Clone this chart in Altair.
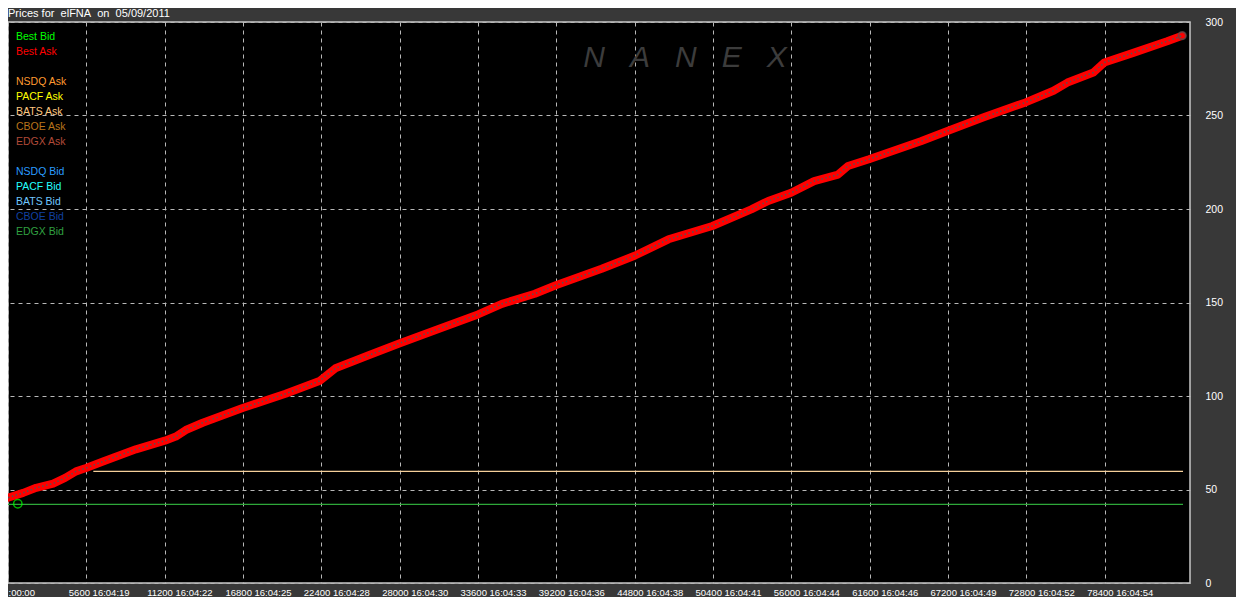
import altair as alt
import pandas as pd

# ---------------- data ----------------
title_text = "Prices for\u00a0\u00a0elFNA\u00a0\u00a0on\u00a0\u00a005/09/2011"
watermark = "N\u00a0\u00a0\u00a0A\u00a0\u00a0\u00a0N\u00a0\u00a0\u00a0E\u00a0\u00a0\u00a0X"

# Best Ask trace (sequence number, price)
ask_seq = [0, 1087, 2014, 3226, 4081, 4865, 5580, 6791, 9144, 11212, 11996, 12709,
           13921, 16773, 19839, 22263, 23404, 25828, 27967, 30534, 33600, 35311,
           37664, 39161, 42441, 44794, 47218, 50355, 53136, 54348, 55988, 57628,
           59339, 60052, 61549, 65257, 67253, 69749, 72744, 74740, 75738, 77592,
           78376, 80444, 82868, 83938]
ask_price = [45.6, 48.2, 50.9, 53.2, 56.2, 59.7, 61.5, 65.0, 71.5, 76.1, 78.3, 81.8,
             85.7, 93.6, 101.2, 108.0, 114.8, 121.9, 128.1, 135.2, 143.6, 149.3,
             154.7, 159.2, 168.0, 175.0, 183.8, 190.9, 199.8, 204.3, 208.7, 214.9,
             218.4, 223.0, 226.6, 236.2, 242.0, 249.0, 257.0, 263.2, 267.6, 273.0,
             278.3, 283.5, 289.7, 292.7]

# flat quote levels
level_names = ["EDGX Bid", "BATS Ask"]
level_start = [0, 6100]
level_end = [84000, 84000]
level_price = [42.0, 59.7]
level_color = ["#2ea83a", "#f6d09a"]

# best bid marker near the start
bid_seq = [700]
bid_price = [42.4]

# x axis ticks
x_ticks = [0, 5600, 11200, 16800, 22400, 28000, 33600, 39200, 44800, 50400,
           56000, 61600, 67200, 72800, 78400]
x_labels = [":00:00", "5600 16:04:19", "11200 16:04:22", "16800 16:04:25",
            "22400 16:04:28", "28000 16:04:30", "33600 16:04:33", "39200 16:04:36",
            "44800 16:04:38", "50400 16:04:41", "56000 16:04:44", "61600 16:04:46",
            "67200 16:04:49", "72800 16:04:52", "78400 16:04:54"]
y_ticks = [0, 50, 100, 150, 200, 250, 300]

# legend entries
legend_names = ["Best Bid", "Best Ask", "", "NSDQ Ask", "PACF Ask", "BATS Ask",
                "CBOE Ask", "EDGX Ask", "", "NSDQ Bid", "PACF Bid", "BATS Bid",
                "CBOE Bid", "EDGX Bid"]
legend_colors = ["#00ff00", "#ff0000", "#000000", "#ff9a30", "#ffff00", "#ffc880",
                 "#b8741a", "#b04a38", "#000000", "#2a9cff", "#22ffff", "#70c8ff",
                 "#1040a0", "#30a040"]

# ---------------- chart ----------------
FONT = "Liberation Sans"
xdom = [0, 84500]
ydom = [0, 300]

ask_df = pd.DataFrame({"seq": ask_seq, "price": ask_price})
lvl_df = pd.DataFrame({"name": level_names, "s": level_start, "e": level_end,
                       "price": level_price, "color": level_color})
bid_df = pd.DataFrame({"seq": bid_seq, "price": bid_price})
leg_df = pd.DataFrame({"name": legend_names, "color": legend_colors})

label_expr = ""
for v, lab in zip(x_ticks, x_labels):
    label_expr += f"datum.value == {v} ? '{lab}' : "
label_expr += "''"

x_axis = alt.Axis(
    values=x_ticks, labelExpr=label_expr, title=None, domain=False, ticks=False,
    grid=True, gridColor="#b8b8b8", gridDash=[4, 4], gridWidth=1,
    labelColor="#ffffff", labelFont=FONT, labelFontSize=9.5, labelAlign="left",
    labelOffset={"condition": {"test": "datum.value == 0", "value": 0}, "value": -18},
    labelPadding=4, labelOverlap=False, labelFlush=False, labelBound=False,
)
y_axis = alt.Axis(
    values=y_ticks, orient="right", title=None, domain=False, ticks=False,
    grid=True, gridColor="#b8b8b8", gridDash=[4, 4], gridWidth=1,
    labelColor="#ffffff", labelFont=FONT, labelFontSize=10.5, labelAlign="left",
    labelPadding=15, labelOverlap=False, labelFlush=False,
)

X = lambda f: alt.X(f, scale=alt.Scale(domain=xdom, nice=False, zero=False), axis=x_axis)
Y = lambda f: alt.Y(f, scale=alt.Scale(domain=ydom, nice=False), axis=y_axis)

# watermark
wm = alt.Chart(pd.DataFrame({"t": [watermark]})).mark_text(
    font=FONT, fontSize=30, fontStyle="italic", color="#3c3c3c",
    align="center", baseline="middle"
).encode(text="t:N", x=alt.value(677), y=alt.value(36))

levels = alt.Chart(lvl_df).mark_rule(strokeWidth=1.2).encode(
    x=X("s:Q"), x2="e:Q", y=Y("price:Q"),
    color=alt.Color("color:N", scale=None)
)

ask_band = alt.Chart(ask_df).mark_line(
    color="#ff0000", strokeWidth=8, strokeCap="round", strokeJoin="round"
).encode(x=X("seq:Q"), y=Y("price:Q"))

ask_dots = alt.Chart(ask_df).mark_line(
    color="#5a5050", strokeWidth=1.6, strokeDash=[1.5, 2.5]
).encode(x=X("seq:Q"), y=Y("price:Q"))

ask_end = alt.Chart(ask_df.tail(1)).mark_point(
    shape="circle", filled=False, size=55, stroke="#505050", strokeWidth=2
).encode(x=X("seq:Q"), y=Y("price:Q"))

bid_mark = alt.Chart(bid_df).mark_point(
    shape="circle", filled=False, size=70, stroke="#00ff00", strokeWidth=1.5
).encode(x=X("seq:Q"), y=Y("price:Q"))

legend = alt.Chart(leg_df).transform_window(
    row="row_number()"
).transform_calculate(
    ypix="datum.row * 15"
).mark_text(
    font=FONT, fontSize=10.5, align="left", baseline="middle"
).encode(
    text="name:N", x=alt.value(8),
    y=alt.Y("ypix:Q", scale=None, axis=None),
    color=alt.Color("color:N", scale=None)
)

title = alt.Chart(pd.DataFrame({"t": [title_text]})).mark_text(
    font=FONT, fontSize=11, color="#ffffff", align="left", baseline="middle"
).encode(text="t:N", x=alt.value(0), y=alt.value(-8))

chart = alt.layer(
    wm, levels, ask_band, ask_dots, ask_end, bid_mark, legend, title
).properties(
    width=1182, height=561, background="#383838",
    padding={"left": 0, "top": 14, "right": 46, "bottom": 14},
    autosize=alt.AutoSizeParams(type="none"),
).configure_view(
    fill="#000000", stroke="#c8c8c8", strokeWidth=1.5
)

chart.save("out.html", embed_options={"renderer": "svg", "actions": False})
